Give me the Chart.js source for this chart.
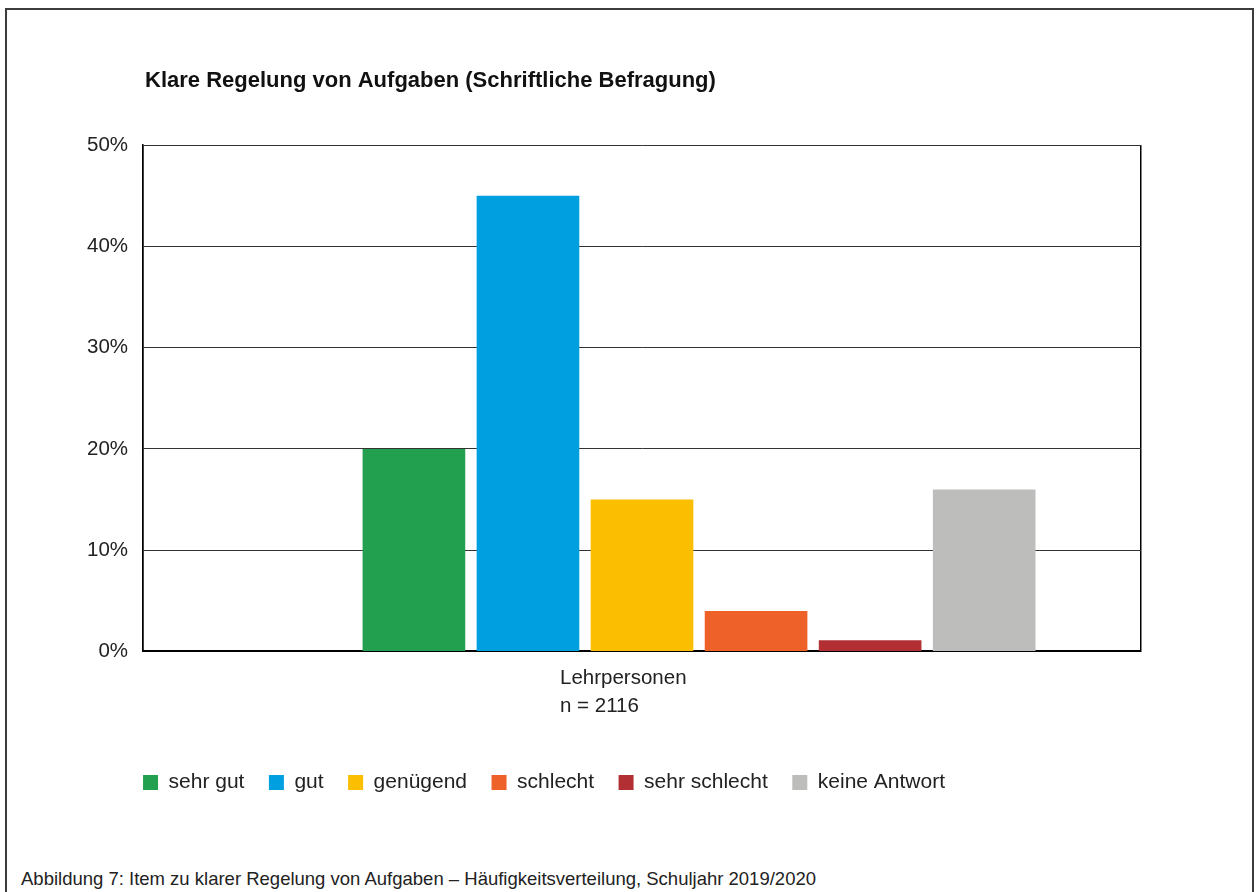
<!DOCTYPE html>
<html><head><meta charset="utf-8">
<script src="https://cdn.jsdelivr.net/npm/chart.js@4"></script>
<style>
body{margin:0;background:#fff;width:1259px;height:892px;overflow:hidden;position:relative;font-family:"Liberation Sans",Arial,sans-serif;}
#frame{position:absolute;left:5px;top:8px;width:1245px;height:900px;border:2px solid #3c3c3c;border-bottom:none;}
#wrap{position:absolute;left:10px;top:10px;width:1230px;height:793px;}
#caption{position:absolute;left:21px;top:868px;font-size:18.5px;color:#222;white-space:nowrap;}
</style></head>
<body>
<div id="frame"></div>
<div id="wrap"><canvas id="c"></canvas></div>
<div id="caption">Abbildung 7: Item zu klarer Regelung von Aufgaben – Häufigkeitsverteilung, Schuljahr 2019/2020</div>
<script>
const titleText = 'Klare Regelung von Aufgaben (Schriftliche Befragung)';
const categories = [['Lehrpersonen', 'n = 2116']];
const seriesLabels = ['sehr gut', 'gut', 'genügend', 'schlecht', 'sehr schlecht', 'keine Antwort'];
const seriesValues = [20, 45, 15, 4, 1.1, 16];
const seriesColors = ['#22A050', '#009FE0', '#FBBE00', '#EE6229', '#B23033', '#BDBDBB'];
const yTickValues = [0, 10, 20, 30, 40, 50];

const FONT = '"Liberation Sans", Arial, sans-serif';
const datasets = [{label: '', data: [null], backgroundColor: 'rgba(0,0,0,0)'}].concat(
  seriesLabels.map((l, i) => ({label: l, data: [seriesValues[i]], backgroundColor: seriesColors[i]}))
);

const alignBlocks = {
  id: 'alignBlocks',
  afterLayout(chart) {
    const ca = chart.chartArea;
    if (chart.titleBlock) chart.titleBlock.left = ca.left + 2;
    if (chart.legend) chart.legend.left = ca.left - chart.legend.options.labels.padding;
  }
};

new Chart(document.getElementById('c'), {
  type: 'bar',
  data: {labels: categories, datasets},
  plugins: [alignBlocks],
  options: {
    responsive: true,
    maintainAspectRatio: false,
    animation: false,
    layout: {padding: {left: 62, right: 99, top: 58, bottom: 0}},
    datasets: {bar: {categoryPercentage: 0.8, barPercentage: 0.9}},
    scales: {
      x: {
        grid: {display: true, offset: true, color: '#000', lineWidth: 1.5, drawTicks: false},
        border: {display: true, color: '#000', width: 2},
        ticks: {align: 'start', labelOffset: -82, padding: 13, color: '#222', font: {family: FONT, size: 20.5, lineHeight: 1.366}},
        title: {display: true, text: '', font: {size: 10, lineHeight: 1}, padding: {top: 0, bottom: 4}}
      },
      y: {
        min: yTickValues[0], max: yTickValues[yTickValues.length - 1],
        afterBuildTicks(axis) { axis.ticks = yTickValues.map(v => ({value: v})); },
        grid: {color: '#333', lineWidth: 1, drawTicks: false},
        border: {display: true, color: '#000', width: 1.5},
        ticks: {padding: 15, color: '#222', font: {family: FONT, size: 20.5}, callback: v => v + '%'}
      }
    },
    plugins: {
      title: {display: true, text: titleText, align: 'start', color: '#111', font: {family: FONT, size: 22, weight: 'bold'}, padding: {top: 0, bottom: 50.6}},
      legend: {
        position: 'bottom', align: 'start',
        labels: {
          boxWidth: 15, boxHeight: 15, padding: 24.5, color: '#222',
          font: {family: FONT, size: 21},
          filter: item => item.text !== ''
        }
      },
      tooltip: {enabled: false}
    }
  }
});
</script>
</body></html>
